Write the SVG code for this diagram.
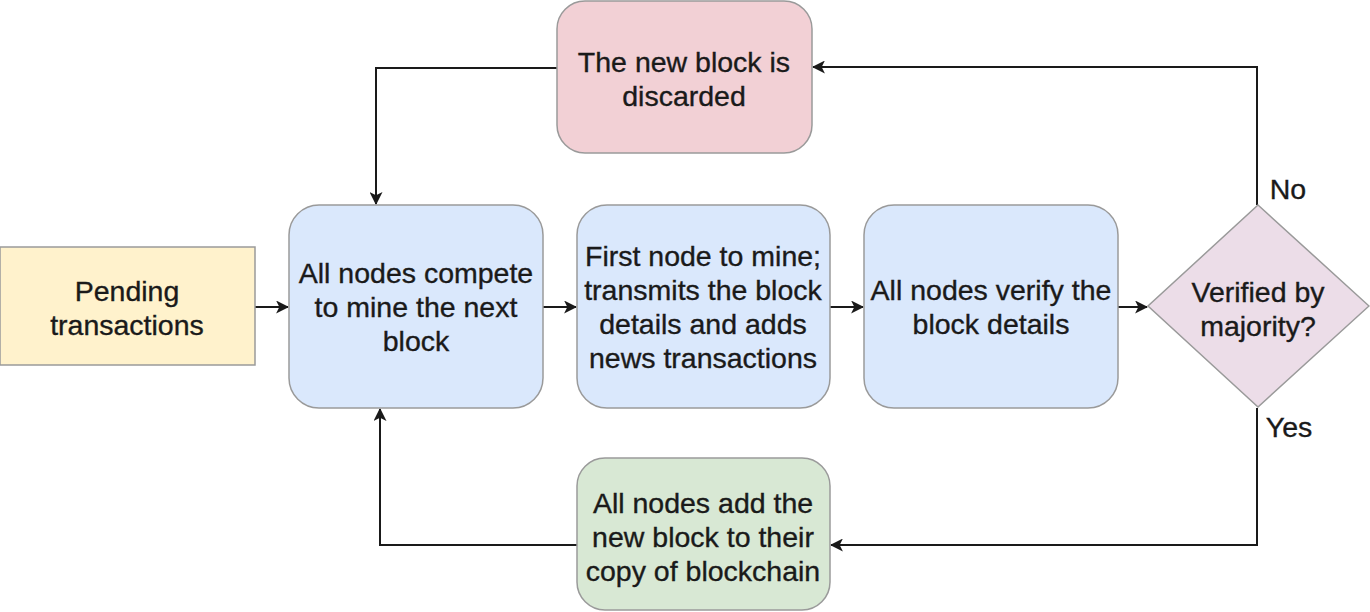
<svg xmlns="http://www.w3.org/2000/svg" width="1370" height="612" viewBox="0 0 1370 612">
<style>
.t{font-family:"Liberation Sans",Arial,sans-serif;font-size:28.5px;fill:#1a1a1a;stroke:#1a1a1a;stroke-width:0.35;text-anchor:middle;dominant-baseline:central}
.box{stroke:#9a9a9a;stroke-width:1.5}
.blue{fill:#dae8fc}
.c{fill:none;stroke:#1a1a1a;stroke-width:2}
</style>
<defs>
<marker id="ah" viewBox="0 0 12 12" refX="11" refY="6" markerWidth="13" markerHeight="13" markerUnits="userSpaceOnUse" orient="auto">
<path d="M0,0 L12,6 L0,12 L3,6 Z" fill="#1a1a1a"/>
</marker>
</defs>
<rect width="1370" height="612" fill="#ffffff"/>
<g id="connectors">
<path class="c" d="M255,307 L288,307" marker-end="url(#ah)"/>
<path class="c" d="M543,307 L576,307" marker-end="url(#ah)"/>
<path class="c" d="M830,307 L863,307" marker-end="url(#ah)"/>
<path class="c" d="M1118,307 L1147,307" marker-end="url(#ah)"/>
<path class="c" d="M1257,205 L1257,67 L813,67" marker-end="url(#ah)"/>
<path class="c" d="M557,68 L376,68 L376,204" marker-end="url(#ah)"/>
<path class="c" d="M1257,408 L1257,545 L831,545" marker-end="url(#ah)"/>
<path class="c" d="M577,545 L380,545 L380,409" marker-end="url(#ah)"/>
<text class="t" x="1288" y="189">No</text>
<text class="t" x="1289" y="427">Yes</text>
</g>
<g id="pending">
<rect class="box" x="0" y="247" width="255" height="118" fill="#fff2cc"/>
<text class="t" x="127" y="291">Pending</text>
<text class="t" x="127" y="325">transactions</text>
</g>
<g id="compete">
<rect class="box blue" x="289" y="205" width="254" height="203" rx="30"/>
<text class="t" x="416" y="273">All nodes compete</text>
<text class="t" x="416" y="307">to mine the next</text>
<text class="t" x="416" y="341">block</text>
</g>
<g id="first">
<rect class="box blue" x="577" y="205" width="253" height="203" rx="30"/>
<text class="t" x="703" y="256">First node to mine;</text>
<text class="t" x="703" y="290">transmits the block</text>
<text class="t" x="703" y="324">details and adds</text>
<text class="t" x="703" y="358">news transactions</text>
</g>
<g id="verify">
<rect class="box blue" x="864" y="205" width="254" height="203" rx="30"/>
<text class="t" x="991" y="290">All nodes verify the</text>
<text class="t" x="991" y="324">block details</text>
</g>
<g id="decision">
<polygon class="box" points="1258,205 1369,306 1258,407 1148,306" fill="#ecdde8"/>
<text class="t" x="1258" y="292">Verified by</text>
<text class="t" x="1258" y="326">majority?</text>
</g>
<g id="discarded">
<rect class="box" x="557" y="1" width="255" height="152" rx="28" fill="#f2d0d5"/>
<text class="t" x="684" y="62">The new block is</text>
<text class="t" x="684" y="96">discarded</text>
</g>
<g id="add">
<rect class="box" x="577" y="458" width="253" height="152" rx="28" fill="#d8e8d4"/>
<text class="t" x="703" y="503">All nodes add the</text>
<text class="t" x="703" y="537">new block to their</text>
<text class="t" x="703" y="571">copy of blockchain</text>
</g>
</svg>
